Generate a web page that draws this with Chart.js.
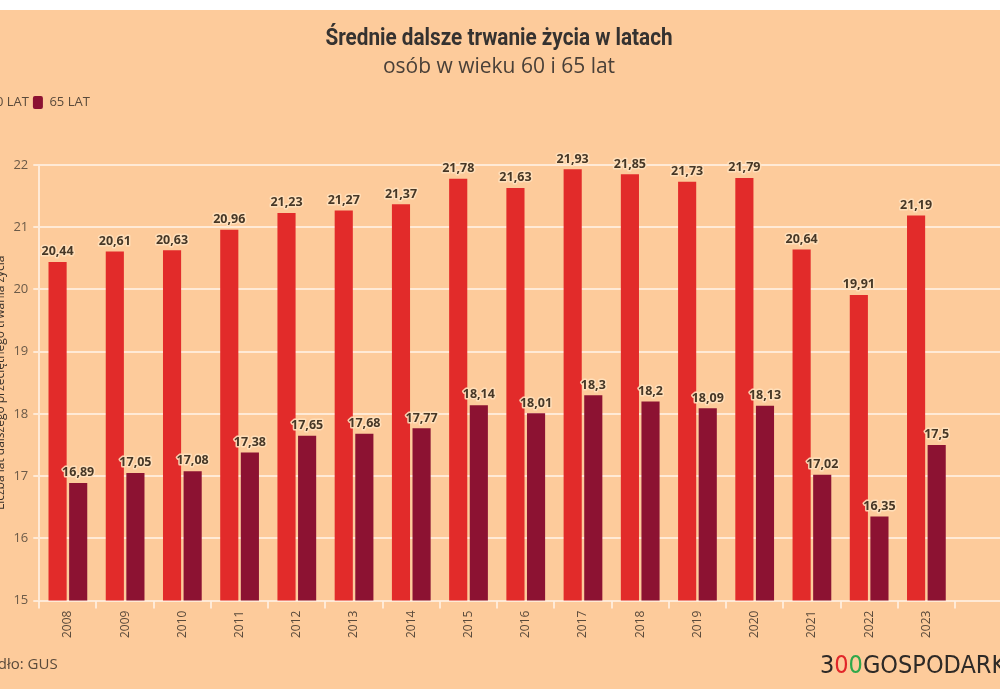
<!DOCTYPE html>
<html>
<head>
<meta charset="utf-8">
<script src="https://cdn.jsdelivr.net/npm/chart.js@4.4.1/dist/chart.umd.min.js"></script>
<style>
  body { margin: 0; background: #fff; width: 1000px; height: 700px; overflow: hidden; }
  #wrap { position: absolute; left: 0; top: 10px; width: 1000px; height: 679px; background: #fdcb9b; overflow: hidden; }
  #box { position: absolute; left: -32px; top: 0; width: 1060px; height: 679px; }
</style>
</head>
<body>
<div id="wrap"><div id="box"><canvas id="lifeChart"></canvas></div></div>
<script>
// Data
const years = ['2008', '2009', '2010', '2011', '2012', '2013', '2014', '2015',
               '2016', '2017', '2018', '2019', '2020', '2021', '2022', '2023'];
const age60 = [20.44, 20.61, 20.63, 20.96, 21.23, 21.27, 21.37, 21.78,
               21.63, 21.93, 21.85, 21.73, 21.79, 20.64, 19.91, 21.19];
const age65 = [16.89, 17.05, 17.08, 17.38, 17.65, 17.68, 17.77, 18.14,
               18.01, 18.3, 18.2, 18.09, 18.13, 17.02, 16.35, 17.5];
const seriesNames = ['60 LAT', '65 LAT'];

const txt = '#463726';
const gridCol = 'rgba(255, 240, 225, 0.85)';

// value labels above the bars
const valueLabels = {
    id: 'valueLabels',
    afterDatasetsDraw(chart) {
        const c = chart.ctx;
        c.save();
        c.font = 'bold 12.5px "Noto Sans", sans-serif';
        c.textAlign = 'center';
        c.textBaseline = 'bottom';
        c.lineJoin = 'round';
        chart.data.datasets.forEach((ds, i) => {
            chart.getDatasetMeta(i).data.forEach((bar, j) => {
                const s = String(ds.data[j]).replace('.', ',');
                c.strokeStyle = 'rgba(255, 225, 190, 0.9)';
                c.lineWidth = 3;
                c.strokeText(s, bar.x, bar.y - 4);
                c.fillStyle = txt;
                c.fillText(s, bar.x, bar.y - 4);
            });
        });
        c.restore();
    }
};

// title block, gridlines running on to the right edge, source and logo
const extras = {
    id: 'extras',
    beforeDatasetsDraw(chart) {
        const c = chart.ctx, y = chart.scales.y, area = chart.chartArea;
        c.save();
        c.strokeStyle = gridCol;
        c.lineWidth = 2;
        y.ticks.forEach((t) => {
            const py = Math.round(y.getPixelForValue(t.value));
            c.beginPath();
            c.moveTo(area.right, py);
            c.lineTo(chart.width, py);
            c.stroke();
        });
        c.restore();
    },
    afterDraw(chart) {
        const c = chart.ctx;
        c.save();
        c.textBaseline = 'middle';
        c.textAlign = 'center';
        // condensed bold title
        c.save();
        c.translate(531, 29);
        c.scale(0.9, 1);
        c.fillStyle = '#353230';
        c.font = 'bold 23px Roboto, sans-serif';
        c.fillText('Średnie dalsze trwanie życia w latach', 0, 0);
        c.restore();
        c.fillStyle = '#4a4038';
        c.font = '21px "Open Sans", sans-serif';
        c.fillText('osób w wieku 60 i 65 lat', 531, 57);

        c.textAlign = 'left';
        c.fillStyle = '#5a4a3b';
        c.font = '15px "Open Sans", sans-serif';
        c.fillText('Źródło: GUS', 6, 655);
        c.font = '25px "DejaVu Sans Condensed", "DejaVu Sans", sans-serif';
        const parts = [['3', '#2e2a27'], ['0', '#e1262a'], ['0', '#2fa84a'], ['GOSPODARKA', '#2e2a27']];
        let x = 852;
        parts.forEach(([s, col]) => {
            c.fillStyle = col;
            c.fillText(s, x, 656);
            x += c.measureText(s).width;
        });
        c.restore();
    }
};

// extra room under the legend
const legendGap = {
    id: 'legendGap',
    beforeInit(chart) {
        const fit = chart.legend.fit;
        chart.legend.fit = function () {
            fit.bind(chart.legend)();
            this.height += 46;
        };
    }
};

new Chart(document.getElementById('lifeChart'), {
    type: 'bar',
    data: {
        labels: years,
        datasets: [
            { label: seriesNames[0], data: age60, backgroundColor: '#e22b2a' },
            { label: seriesNames[1], data: age65, backgroundColor: '#8c1232' }
        ]
    },
    options: {
        responsive: true,
        maintainAspectRatio: false,
        animation: false,
        categoryPercentage: 0.72,
        barPercentage: 0.88,
        layout: { padding: { left: 0, right: 73, top: 82, bottom: 49 } },
        plugins: {
            legend: {
                align: 'start',
                labels: {
                    color: '#5a4a3b',
                    font: { family: '"Open Sans", sans-serif', size: 13 },
                    boxWidth: 10,
                    boxHeight: 13,
                    useBorderRadius: true,
                    borderRadius: 2,
                    padding: 4
                }
            },
            tooltip: { enabled: false }
        },
        scales: {
            x: {
                grid: { drawOnChartArea: false, color: gridCol, lineWidth: 2, tickLength: 8 },
                border: { display: false },
                ticks: {
                    color: '#5a4a3b',
                    font: { family: '"Open Sans", sans-serif', size: 12 },
                    minRotation: 90,
                    maxRotation: 90,
                    padding: 2
                }
            },
            y: {
                min: 15,
                max: 22,
                ticks: {
                    stepSize: 1,
                    color: '#6b5a48',
                    font: { family: '"Open Sans", sans-serif', size: 13 },
                    padding: 5
                },
                grid: { color: gridCol, lineWidth: 2, tickLength: 6 },
                border: { color: gridCol, width: 2 },
                title: {
                    display: true,
                    text: 'Liczba lat dalszego przeciętnego trwania życia',
                    color: '#3a322b',
                    font: { family: '"Open Sans", sans-serif', size: 12 },
                    padding: { top: 25, bottom: 1 }
                }
            }
        }
    },
    plugins: [valueLabels, extras, legendGap]
});
</script>
</body>
</html>
